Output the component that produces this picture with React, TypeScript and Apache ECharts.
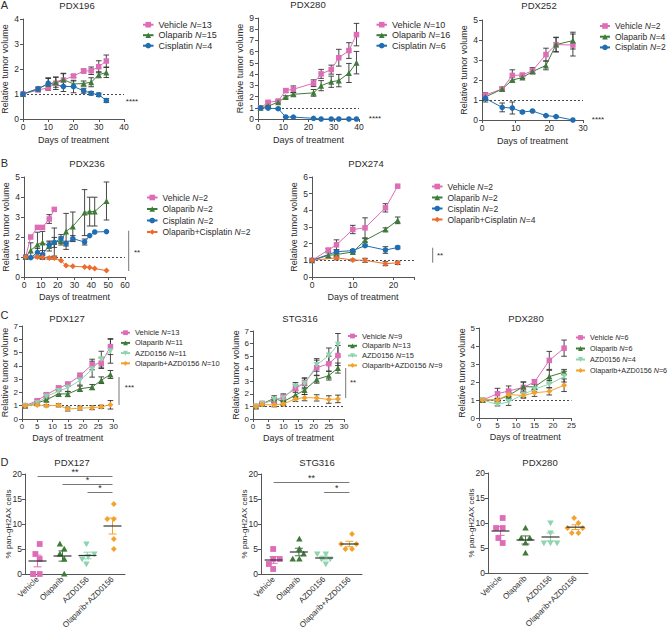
import React, { useEffect, useRef } from "react";
import * as echarts from "echarts";

// ===================== DATA =====================
// Panel A – PDX196
const pdx196Days = [0, 6, 10, 13, 16, 20, 24, 27, 30, 33];
const pdx196Vehicle = [1.0, 1.16, 1.25, 1.43, 1.56, 1.72, 1.92, 1.93, 2.09, 2.32];
const pdx196VehicleSem = [0, 0.04, 0.1, 0.25, 0.25, 0.06, 0.08, 0.15, 0.24, 0.24];
const pdx196Olaparib = [1.0, 1.22, 1.4, 1.47, 1.58, 1.4, 1.42, 1.47, 1.77, 1.86];
const pdx196OlaparibSem = [0, 0.05, 0.22, 0.2, 0.25, 0.12, 0.1, 0.18, 0.12, 0.2];
const pdx196Cisplatin = [1.0, 1.2, 1.43, null, 1.3, 1.3, 1.13, 1.03, 0.97, 0.74];
const pdx196CisplatinSem = [0, 0.08, 0.22, 0, 0.2, 0.25, 0.1, 0.07, 0.07, 0.08];
const pdx196N = [13, 15, 4];

// Panel A – PDX280
const pdx280aDays = [1, 4, 8, 11, 14, 22, 25, 29, 32, 36, 39];
const pdx280aVehicle = [1.0, 1.49, 1.6, 2.53, 2.65, 3.19, 4.02, 4.4, 5.46, 6.1, 7.52];
const pdx280aVehicleSem = [0, 0.08, 0.1, 0.15, 0.3, 0.3, 0.4, 0.4, 0.75, 0.7, 1.0];
const pdx280aOlaparib = [1.0, 1.15, 1.5, 1.97, 2.2, 2.33, 2.97, 3.32, 3.42, 4.1, 5.02];
const pdx280aOlaparibSem = [0, 0.05, 0.1, 0.1, 0.15, 0.3, 0.45, 0.5, 0.55, 0.85, 1.0];
const pdx280aCisplatin = [1.0, 0.97, 0.92, 0.18, 0.17, 0.06, 0.0, 0.0, 0.0, 0.0, 0.0];
const pdx280aCisplatinSem = [0, 0.05, 0.05, 0.03, 0.03, 0, 0, 0, 0, 0, 0];
const pdx280aN = [10, 16, 6];

// Panel A – PDX252
const pdx252Days = [1, 6, 9, 12, 15, 19, 22, 27];
const pdx252Vehicle = [1.25, 1.55, 2.23, 2.25, 2.47, 3.27, 3.77, 3.75];
const pdx252VehicleSem = [0.12, 0.05, 0.28, 0.05, 0.15, 0.32, 0.37, 0.55];
const pdx252Olaparib = [1.15, 1.55, 2.0, 2.12, 2.42, 2.73, 3.77, 3.97];
const pdx252OlaparibSem = [0.1, 0.1, 0.12, 0.05, 0.1, 0.22, 0.35, 0.42];
const pdx252Cisplatin = [1.08, 0.63, 0.6, 0.4, 0.45, 0.22, 0.17, 0.0];
const pdx252CisplatinSem = [0.18, 0.22, 0.3, 0.05, 0.03, 0.02, 0.02, 0];
const pdx252N = [2, 4, 2];

// Panel B – PDX236
const pdx236Days = [1, 4, 8, 11, 15, 18, 22, 25, 29, 36, 39, 42, 49];
const pdx236Vehicle = [1.0, 2.0, 2.48, 2.48, 2.9, 3.38, null, null, null, null, null, null, null];
const pdx236VehicleSem = [0, 0, 0, 0, 0.22, 0, 0, 0, 0, 0, 0, 0, 0];
const pdx236Olaparib = [1.0, 1.33, 1.62, 1.73, 1.55, 1.75, 1.8, 2.28, 2.53, 3.22, 3.27, 3.27, 3.8];
const pdx236OlaparibSem = [0, 0.38, 0.62, 0.55, 0.25, 0.7, 0.2, 0.9, 0.72, 1.15, 0.72, 0.72, 0.95];
const pdx236Cisplatin = [1.0, 0.97, 1.23, 1.12, 1.6, 1.73, 1.92, 1.67, 1.92, 1.75, 2.07, 2.25, 2.27];
const pdx236CisplatinSem = [0, 0, 0.2, 0.2, 0.15, 0.25, 0.2, 0.12, 0.15, 0.15, 0, 0, 0];
const pdx236OlapCis = [1.0, null, 1.0, 0.98, 0.95, 0.95, 0.82, 0.57, 0.54, 0.5, 0.48, 0.42, 0.32];
const pdx236OlapCisSem = [0, 0, 0.05, 0.1, 0.05, 0.05, 0, 0, 0, 0, 0, 0, 0];
const pdx236N = [2, 2, 2, 2];

// Panel B – PDX274
const pdx274Days = [0, 4, 6, 10, 13, 18, 21];
const pdx274Vehicle = [1.0, 1.62, 1.93, 2.85, 2.95, 4.15, 5.45];
const pdx274VehicleSem = [0, 0.08, 0.3, 0.25, 0.6, 0.25, 0];
const pdx274Olaparib = [1.0, 1.3, 1.35, 1.5, 2.2, 2.85, 3.4];
const pdx274OlaparibSem = [0, 0.15, 0.1, 0.05, 0.1, 0.1, 0.2];
const pdx274Cisplatin = [1.0, null, 1.52, 1.58, 1.88, 1.62, 1.77];
const pdx274CisplatinSem = [0, 0, 0.12, 0.07, 0.05, 0.2, 0.08];
const pdx274OlapCis = [1.0, null, 1.15, 1.02, 1.0, 0.8, 0.85];
const pdx274OlapCisSem = [0, 0, 0.12, 0.05, 0.12, 0.12, 0.1];
const pdx274N = [2, 2, 2, 4];

// Panel C – PDX127
const pdx127Days = [1, 5, 8, 12, 15, 19, 23, 26, 29];
const pdx127Vehicle = [1.0, 1.38, 1.83, 2.33, 2.62, 3.25, 4.1, 4.2, 5.45];
const pdx127VehicleSem = [0, 0.08, 0.12, 0.15, 0.15, 0.2, 0.4, 0.4, 0.6];
const pdx127Olaparib = [1.0, 1.2, 1.45, 1.9, 1.88, 2.28, 2.4, 2.92, 3.35];
const pdx127OlaparibSem = [0, 0.1, 0.15, 0.2, 0.2, 0.2, 0.2, 0.25, 0.3];
const pdx127Azd = [1.0, 1.2, 1.7, 2.1, 2.35, 2.9, 3.75, 4.5, 5.1];
const pdx127AzdSem = [0, 0.1, 0.2, 0.25, 0.3, 0.35, 0.6, 0.6, 0.9];
const pdx127OlapAzd = [1.0, 1.05, 1.0, 1.03, 0.75, 0.82, 0.85, 0.92, 1.07];
const pdx127OlapAzdSem = [0, 0.05, 0.08, 0.12, 0.15, 0.15, 0.15, 0.12, 0.32];
const pdx127N = [13, 11, 11, 10];

// Panel C – STG316
const stg316Days = [1, 3, 7, 10, 14, 17, 21, 25, 28];
const stg316Vehicle = [1.0, 1.25, 1.5, 1.75, 2.42, 2.88, 4.08, 4.4, 5.05];
const stg316VehicleSem = [0, 0.1, 0.2, 0.25, 0.3, 0.4, 0.6, 0.6, 0.8];
const stg316Olaparib = [1.0, 1.2, 1.65, 1.38, 1.9, 2.3, 3.15, 3.45, 4.05];
const stg316OlaparibSem = [0, 0.08, 0.2, 0.25, 0.35, 0.35, 0.3, 0.35, 0.4];
const stg316Azd = [1.0, 1.2, 1.55, 1.65, 2.6, 2.8, 4.3, 5.05, 5.9];
const stg316AzdSem = [0, 0.1, 0.15, 0.25, 0.3, 0.4, 0.5, 0.6, 0.9];
const stg316OlapAzd = [1.0, 1.15, 1.12, 1.2, 1.6, 1.7, 1.68, 1.55, 1.6];
const stg316OlapAzdSem = [0, 0.08, 0.15, 0.15, 0.2, 0.25, 0.25, 0.3, 0.3];
const stg316N = [9, 13, 15, 9];

// Panel C – PDX280
const pdx280cDays = [1, 5, 8, 12, 15, 19, 23];
const pdx280cVehicle = [1.0, 1.35, 1.5, 1.7, 2.0, 3.2, 3.88];
const pdx280cVehicleSem = [0, 0.3, 0.28, 0.3, 0.12, 0.5, 0.45];
const pdx280cOlaparib = [1.0, 1.0, 1.25, 1.75, 1.72, 2.3, 2.55];
const pdx280cOlaparibSem = [0, 0.1, 0.25, 0.25, 0.15, 0.35, 0.15];
const pdx280cAzd = [1.0, 0.75, 0.9, 1.3, 1.6, 1.88, 2.3];
const pdx280cAzdSem = [0, 0.08, 0.2, 0.15, 0.15, 0.2, 0.3];
const pdx280cOlapAzd = [1.0, 1.0, 1.3, 1.25, 1.4, 1.48, 1.82];
const pdx280cOlapAzdSem = [0, 0.08, 0.12, 0.15, 0.2, 0.2, 0.35];
const pdx280cN = [6, 6, 4, 6];

// Panel D – % pan-gH2AX cells
const dCategories = ["Vehicle", "Olaparib", "AZD0156", "Olaparib+AZD0156"];
const gh2axPdx127Vehicle = [6, 4, 3, 0, 0];
const gh2axPdx127Olaparib = [6, 5, 4, 3, 0];
const gh2axPdx127Azd = [6, 4, 3.5, 3, 2];
const gh2axPdx127OlapAzd = [14, 11, 11, 7, 5];
const gh2axStg316Vehicle = [5, 3, 3, 2, 1];
const gh2axStg316Olaparib = [7, 5, 4, 3, 3];
const gh2axStg316Azd = [4, 4, 3, 3, 2];
const gh2axStg316OlapAzd = [8, 6, 6, 5, 5];
const gh2axPdx280Vehicle = [11, 9, 9, 7, 6];
const gh2axPdx280Olaparib = [9, 7, 7, 6, 4];
const gh2axPdx280Azd = [10, 8, 6, 6, 6];
const gh2axPdx280OlapAzd = [11, 10, 9, 9, 8, 8];

// ===================== STYLE =====================
const FONT = "'Liberation Sans', Arial, Helvetica, sans-serif";
const TXT = "#2b2b2b";
const AXC = "#555555";
const ERRC = "#333333";

const COLORS: Record<string, string> = {
  Vehicle: "#de6cb6",
  Olaparib: "#3f7b38",
  Cisplatin: "#1f6db3",
  "Olaparib+Cisplatin": "#ee6b2e",
  AZD0156: "#8ed4ae",
  "Olaparib+AZD0156": "#f3a32d",
};
const SYMBOLS: Record<string, [string, number, number]> = {
  Vehicle: ["rect", 5.5, 0],
  Olaparib: ["triangle", 6, 0],
  Cisplatin: ["circle", 5.5, 0],
  "Olaparib+Cisplatin": ["diamond", 6, 0],
  AZD0156: ["triangle", 6, 180],
  "Olaparib+AZD0156": ["diamond", 6, 0],
};

type Grp = [string, number, (number | null)[], number[]];
interface LinePanel {
  key: string; title: string; days: number[]; x: number[]; y: number[]; groups: Grp[];
  grid: any; titlePos: number[]; legend: any; yGap: number; xGap: number; fs: number;
}

const LINE_PANELS: LinePanel[] = [
  {
    key: "A1", title: "PDX196", days: pdx196Days, x: [0, 40, 10], y: [0, 4, 1],
    groups: [
      ["Vehicle", pdx196N[0], pdx196Vehicle, pdx196VehicleSem],
      ["Olaparib", pdx196N[1], pdx196Olaparib, pdx196OlaparibSem],
      ["Cisplatin", pdx196N[2], pdx196Cisplatin, pdx196CisplatinSem],
    ],
    grid: { left: 23, top: 19, width: 101, height: 100 }, titlePos: [77, 5],
    legend: { left: 142, top: 19.7, gap: 0.5, fs: 9, lh: 10, iw: 10.5, ih: 7 }, yGap: 13.5, xGap: 16, fs: 8.5,
  },
  {
    key: "A2", title: "PDX280", days: pdx280aDays, x: [0, 40, 10], y: [0, 9, 1],
    groups: [
      ["Vehicle", pdx280aN[0], pdx280aVehicle, pdx280aVehicleSem],
      ["Olaparib", pdx280aN[1], pdx280aOlaparib, pdx280aOlaparibSem],
      ["Cisplatin", pdx280aN[2], pdx280aCisplatin, pdx280aCisplatinSem],
    ],
    grid: { left: 258, top: 18, width: 101, height: 101 }, titlePos: [308, 4],
    legend: { left: 375.5, top: 19.7, gap: 0.5, fs: 9, lh: 10, iw: 10.5, ih: 7 }, yGap: 13.5, xGap: 16, fs: 8.5,
  },
  {
    key: "A3", title: "PDX252", days: pdx252Days, x: [0, 30, 10], y: [0, 5, 1],
    groups: [
      ["Vehicle", pdx252N[0], pdx252Vehicle, pdx252VehicleSem],
      ["Olaparib", pdx252N[1], pdx252Olaparib, pdx252OlaparibSem],
      ["Cisplatin", pdx252N[2], pdx252Cisplatin, pdx252CisplatinSem],
    ],
    grid: { left: 482, top: 20, width: 101, height: 100 }, titlePos: [539, 5],
    legend: { left: 599, top: 21, gap: 0.7, fs: 8.5, lh: 10, iw: 10, ih: 7 }, yGap: 13.5, xGap: 16, fs: 8.5,
  },
  {
    key: "B1", title: "PDX236", days: pdx236Days, x: [0, 60, 10], y: [0, 5, 1],
    groups: [
      ["Vehicle", pdx236N[0], pdx236Vehicle, pdx236VehicleSem],
      ["Olaparib", pdx236N[1], pdx236Olaparib, pdx236OlaparibSem],
      ["Cisplatin", pdx236N[2], pdx236Cisplatin, pdx236CisplatinSem],
      ["Olaparib+Cisplatin", pdx236N[3], pdx236OlapCis, pdx236OlapCisSem],
    ],
    grid: { left: 24, top: 177, width: 101, height: 100 }, titlePos: [87, 163],
    legend: { left: 146, top: 192.5, gap: 1.5, fs: 8.5, lh: 10, iw: 10.5, ih: 7 }, yGap: 14, xGap: 15.5, fs: 8.5,
  },
  {
    key: "B2", title: "PDX274", days: pdx274Days, x: [0, 25, 10], y: [0, 6, 1],
    groups: [
      ["Vehicle", pdx274N[0], pdx274Vehicle, pdx274VehicleSem],
      ["Olaparib", pdx274N[1], pdx274Olaparib, pdx274OlaparibSem],
      ["Cisplatin", pdx274N[2], pdx274Cisplatin, pdx274CisplatinSem],
      ["Olaparib+Cisplatin", pdx274N[3], pdx274OlapCis, pdx274OlapCisSem],
    ],
    grid: { left: 312, top: 177, width: 102, height: 100 }, titlePos: [366, 163],
    legend: { left: 431, top: 181.5, gap: 1, fs: 8.5, lh: 10, iw: 10.5, ih: 7 }, yGap: 14, xGap: 15.5, fs: 8.5,
  },
  {
    key: "C1", title: "PDX127", days: pdx127Days, x: [0, 30, 5], y: [0, 7, 1],
    groups: [
      ["Vehicle", pdx127N[0], pdx127Vehicle, pdx127VehicleSem],
      ["Olaparib", pdx127N[1], pdx127Olaparib, pdx127OlaparibSem],
      ["AZD0156", pdx127N[2], pdx127Azd, pdx127AzdSem],
      ["Olaparib+AZD0156", pdx127N[3], pdx127OlapAzd, pdx127OlapAzdSem],
    ],
    grid: { left: 22, top: 326, width: 91.5, height: 93 }, titlePos: [67, 318],
    legend: { left: 120, top: 328.2, gap: 1.2, fs: 7.5, lh: 9, iw: 9, ih: 6 }, yGap: 13, xGap: 14, fs: 8,
  },
  {
    key: "C2", title: "STG316", days: stg316Days, x: [0, 30, 5], y: [0, 7, 1],
    groups: [
      ["Vehicle", stg316N[0], stg316Vehicle, stg316VehicleSem],
      ["Olaparib", stg316N[1], stg316Olaparib, stg316OlaparibSem],
      ["AZD0156", stg316N[2], stg316Azd, stg316AzdSem],
      ["Olaparib+AZD0156", stg316N[3], stg316OlapAzd, stg316OlapAzdSem],
    ],
    grid: { left: 253, top: 331, width: 91, height: 88 }, titlePos: [300, 318],
    legend: { left: 347, top: 331.5, gap: 0.8, fs: 7.5, lh: 9, iw: 9, ih: 6 }, yGap: 13, xGap: 14, fs: 8,
  },
  {
    key: "C3", title: "PDX280", days: pdx280cDays, x: [0, 25, 5], y: [0, 5, 1],
    groups: [
      ["Vehicle", pdx280cN[0], pdx280cVehicle, pdx280cVehicleSem],
      ["Olaparib", pdx280cN[1], pdx280cOlaparib, pdx280cOlaparibSem],
      ["AZD0156", pdx280cN[2], pdx280cAzd, pdx280cAzdSem],
      ["Olaparib+AZD0156", pdx280cN[3], pdx280cOlapAzd, pdx280cOlapAzdSem],
    ],
    grid: { left: 479, top: 328, width: 92.5, height: 90 }, titlePos: [526, 318],
    legend: { left: 575, top: 333, gap: 2, fs: 7.2, lh: 9, iw: 9, ih: 6 }, yGap: 13, xGap: 14, fs: 8,
  },
];

interface DPanel { title: string; groups: number[][]; grid: any; titlePos: number[]; sig: any[] }
const D_PANELS: DPanel[] = [
  {
    title: "PDX127",
    groups: [gh2axPdx127Vehicle, gh2axPdx127Olaparib, gh2axPdx127Azd, gh2axPdx127OlapAzd],
    grid: { left: 25, top: 474, width: 100, height: 100 }, titlePos: [72, 462],
    sig: [[-0.07, 3.07, 19.5, "**"], [0.94, 3.07, 18.0, "*"], [1.83, 3.07, 16.3, "*"]],
  },
  {
    title: "STG316",
    groups: [gh2axStg316Vehicle, gh2axStg316Olaparib, gh2axStg316Azd, gh2axStg316OlapAzd],
    grid: { left: 261, top: 474, width: 101, height: 100 }, titlePos: [317, 462],
    sig: [[0.03, 3.16, 18.3, "**"], [1.9, 3.16, 16.3, "*"]],
  },
  {
    title: "PDX280",
    groups: [gh2axPdx280Vehicle, gh2axPdx280Olaparib, gh2axPdx280Azd, gh2axPdx280OlapAzd],
    grid: { left: 488, top: 473, width: 100, height: 100 }, titlePos: [540, 462],
    sig: [],
  },
];

// ===================== HELPERS =====================
const meanOf = (a: number[]) => a.reduce((s, v) => s + v, 0) / a.length;
const semOf = (a: number[]) => {
  const m = meanOf(a);
  const v = a.reduce((s, x) => s + (x - m) * (x - m), 0) / (a.length - 1);
  return Math.sqrt(v / a.length);
};

function swarm(ys: number[], d: number): number[] {
  const n = ys.length;
  const order = ys.map((_, i) => i).sort((a, b) => ys[b] - ys[a] || a - b);
  const xs = new Array(n).fill(0);
  const placed: number[] = [];
  for (const i of order) {
    const cands = [0];
    for (const j of placed) {
      const dy = Math.abs(ys[i] - ys[j]);
      if (dy < d) {
        const w = Math.sqrt(d * d - dy * dy);
        cands.push(xs[j] - w, xs[j] + w);
      }
    }
    cands.sort((a, b) => Math.abs(a) - Math.abs(b) || a - b);
    let chosen = 0;
    for (const c of cands) {
      let ok = true;
      for (const j of placed) {
        const dx = c - xs[j];
        const dy = ys[i] - ys[j];
        if (dx * dx + dy * dy < d * d - 0.01) { ok = false; break; }
      }
      if (ok) { chosen = c; break; }
    }
    xs[i] = chosen;
    placed.push(i);
  }
  const m = xs.reduce((a, b) => a + b, 0) / n;
  return xs.map((x) => x - m);
}

function markerShape(kind: string, cx: number, cy: number, s: number, color: string, rot: number) {
  const h = s / 2;
  const style = { fill: color };
  if (kind === "rect") return { type: "rect", shape: { x: cx - h, y: cy - h, width: s, height: s }, style };
  if (kind === "circle") return { type: "circle", shape: { cx, cy, r: h }, style };
  if (kind === "diamond")
    return { type: "polygon", shape: { points: [[cx, cy - h], [cx + h, cy], [cx, cy + h], [cx - h, cy]] }, style };
  if (rot === 180)
    return { type: "polygon", shape: { points: [[cx - h, cy - h * 0.8], [cx + h, cy - h * 0.8], [cx, cy + h]] }, style };
  return { type: "polygon", shape: { points: [[cx, cy - h], [cx + h, cy + h * 0.8], [cx - h, cy + h * 0.8]] }, style };
}

const errRender = (_params: any, api: any) => {
  const x = api.value(0);
  const y = api.value(1);
  const e = api.value(2);
  if (!e) return { type: "group", children: [] };
  const t = api.coord([x, y + e]);
  const b = api.coord([x, y - e]);
  const cx = t[0];
  const w = 2.8;
  const st = { stroke: ERRC, lineWidth: 0.9 };
  return {
    type: "group",
    children: [
      { type: "line", shape: { x1: cx, y1: t[1], x2: cx, y2: b[1] }, style: st },
      { type: "line", shape: { x1: cx - w, y1: t[1], x2: cx + w, y2: t[1] }, style: st },
      { type: "line", shape: { x1: cx - w, y1: b[1], x2: cx + w, y2: b[1] }, style: st },
    ],
  };
};

function buildOption() {
  const grid: any[] = [];
  const xAxis: any[] = [];
  const yAxis: any[] = [];
  const series: any[] = [];
  const legend: any[] = [];
  const graphic: any[] = [];
  const legendText: Record<string, [string, number]> = {};

  const text = (t: string, x: number, y: number, fs: number, extra: any = {}) =>
    graphic.push({
      type: "text", silent: true,
      style: { text: t, x, y, fill: TXT, fontSize: fs, fontFamily: FONT, align: "center", verticalAlign: "middle", ...extra },
    });
  const vline = (x: number, y1: number, y2: number) =>
    graphic.push({ type: "line", silent: true, shape: { x1: x, y1, x2: x, y2 }, style: { stroke: "#777", lineWidth: 1 } });

  const axisCommon = {
    axisLine: { show: true, onZero: false, lineStyle: { color: AXC, width: 1 } },
    axisTick: { show: true, length: 3, lineStyle: { color: AXC, width: 1 } },
    splitLine: { show: false },
    nameTextStyle: { fontSize: 9, color: TXT, fontFamily: FONT },
    nameMoveOverlap: false,
  };

  LINE_PANELS.forEach((p, gi) => {
    grid.push({ ...p.grid, outerBoundsMode: "none", containLabel: false });
    const xi = p.x[2];
    xAxis.push({
      type: "value", gridIndex: gi, min: p.x[0], max: p.x[1], interval: xi,
      name: "Days of treatment", nameLocation: "middle", nameGap: p.xGap, ...axisCommon,
      axisLabel: { fontSize: p.fs, color: TXT, fontFamily: FONT, margin: 3, formatter: (v: number) => (v % xi === 0 ? String(v) : "") },
    });
    yAxis.push({
      type: "value", gridIndex: gi, min: p.y[0], max: p.y[1], interval: p.y[2],
      name: "Relative tumor volume", nameLocation: "middle", nameGap: p.yGap, ...axisCommon,
      axisLabel: { fontSize: p.fs, color: TXT, fontFamily: FONT, margin: 4 },
    });
    const keys: string[] = [];
    p.groups.forEach((g, k) => {
      const [label, n, vals, sems] = g;
      const key = p.key + ":" + label;
      keys.push(key);
      legendText[key] = [label, n];
      const color = COLORS[label];
      const [sym, size, rot] = SYMBOLS[label];
      const pts: any[] = [];
      const errs: any[] = [];
      p.days.forEach((d, i) => {
        const v = vals[i];
        if (v === null || v === undefined) return;
        pts.push([d, v]);
        errs.push([d, v, sems[i] || 0]);
      });
      series.push({
        type: "line", name: key, xAxisIndex: gi, yAxisIndex: gi, data: pts,
        symbol: sym, symbolSize: size, symbolRotate: rot,
        lineStyle: { width: 1, color }, itemStyle: { color }, z: 3, silent: true,
        emphasis: { disabled: true },
        markLine: k === 0 ? {
          silent: true, symbol: ["none", "none"], label: { show: false },
          lineStyle: { type: [2, 2], color: "#333", width: 0.9 },
          data: [{ yAxis: 1 }], z: 1,
        } : undefined,
      });
      series.push({
        type: "custom", xAxisIndex: gi, yAxisIndex: gi, data: errs, renderItem: errRender,
        encode: { x: 0, y: 1 }, z: 2, silent: true,
      });
    });
    const L = p.legend;
    legend.push({
      show: true, orient: "vertical", left: L.left, top: L.top, padding: 0, itemGap: L.gap,
      itemWidth: L.iw, itemHeight: L.ih, selectedMode: false, data: keys,
      formatter: (name: string) => {
        const t = legendText[name];
        return `${t[0]} {i|N}=${t[1]}`;
      },
      textStyle: {
        fontSize: L.fs, fontFamily: FONT, color: TXT, lineHeight: L.lh,
        rich: { i: { fontStyle: "italic", fontSize: L.fs, fontFamily: FONT, color: TXT, lineHeight: L.lh } },
      },
    });
    text(p.title, p.titlePos[0], p.titlePos[1], 9.5);
  });

  D_PANELS.forEach((p, j) => {
    const gi = LINE_PANELS.length + j;
    grid.push({ ...p.grid, outerBoundsMode: "none", containLabel: false });
    xAxis.push({
      type: "category", gridIndex: gi, data: dCategories, boundaryGap: true,
      axisLine: { show: true, lineStyle: { color: AXC, width: 1 } }, axisTick: { show: false },
      axisLabel: { rotate: 45, fontSize: 8, color: TXT, fontFamily: FONT, margin: 4, interval: 0 },
      splitLine: { show: false },
    });
    yAxis.push({
      type: "value", gridIndex: gi, min: 0, max: 20, interval: 5,
      name: "% pan-gH2AX cells", nameLocation: "middle", nameGap: 13, ...axisCommon,
      nameTextStyle: { fontSize: 8, color: TXT, fontFamily: FONT },
      axisLabel: { fontSize: 8.5, color: TXT, fontFamily: FONT, margin: 3 },
    });
    const colors = dCategories.map((c) => COLORS[c]);
    p.groups.forEach((vals, k) => {
      const cat = dCategories[k];
      const [sym, , rot] = SYMBOLS[cat];
      const color = COLORS[cat];
      series.push({
        type: "custom", xAxisIndex: gi, yAxisIndex: gi, silent: true, z: 3,
        data: vals.map((v) => [k, v]), encode: { x: 0, y: 1 },
        renderItem: (params: any, api: any) => {
          const pts = vals.map((v) => api.coord([k, v]));
          const offs = swarm(pts.map((q: number[]) => q[1]), 6.6);
          const q = pts[params.dataIndex];
          return markerShape(sym, q[0] + offs[params.dataIndex], q[1], sym === "triangle" ? 6.5 : 5.8, color, rot);
        },
      });
    });
    series.push({
      type: "custom", xAxisIndex: gi, yAxisIndex: gi, silent: true, z: 4,
      data: p.groups.map((vals, k) => [k, meanOf(vals), semOf(vals)]), encode: { x: 0, y: 1 },
      renderItem: (params: any, api: any) => {
        const i = api.value(0);
        const m = api.value(1);
        const s = api.value(2);
        const c = api.coord([i, m]);
        const t = api.coord([i, m + s]);
        const b = api.coord([i, m - s]);
        const col = colors[params.dataIndex];
        const st = { stroke: col, lineWidth: 1 };
        return {
          type: "group",
          children: [
            { type: "line", shape: { x1: c[0], y1: t[1], x2: c[0], y2: b[1] }, style: st },
            { type: "line", shape: { x1: c[0] - 4, y1: t[1], x2: c[0] + 4, y2: t[1] }, style: st },
            { type: "line", shape: { x1: c[0] - 4, y1: b[1], x2: c[0] + 4, y2: b[1] }, style: st },
            { type: "line", shape: { x1: c[0] - 9, y1: c[1], x2: c[0] + 9, y2: c[1] }, style: { stroke: "#333", lineWidth: 1.2 } },
          ],
        };
      },
      markLine: p.sig.length ? {
        silent: true, symbol: ["none", "none"],
        lineStyle: { color: "#777", width: 1, type: "solid" },
        label: { show: true, position: "insideMiddleTop", distance: 0, fontSize: 9, color: TXT, fontFamily: FONT, formatter: "{b}" },
        data: p.sig.map((s: any[]) => [{ coord: [s[0], s[2]], name: s[3] }, { coord: [s[1], s[2]] }]),
      } : undefined,
    });
    text(p.title, p.titlePos[0], p.titlePos[1], 9.5);
  });

  // panel letters
  text("A", 4.5, 4.5, 11);
  text("B", 4.5, 163, 11);
  text("C", 4.5, 315, 11);
  text("D", 4.5, 462, 11);
  // significance annotations for growth curves
  text("****", 132, 101, 8);
  text("****", 375, 118, 8);
  text("****", 598, 119, 8);
  vline(128.7, 230.7, 271);
  text("**", 137, 252, 8);
  vline(432.7, 247.7, 262.7);
  text("**", 440, 255, 8);
  vline(119, 377, 405);
  text("***", 129.5, 387, 8);
  vline(345.7, 368, 398);
  text("**", 353, 382, 8);

  return {
    animation: false,
    textStyle: { fontFamily: FONT },
    grid, xAxis, yAxis, series, legend, graphic,
  };
}

export default function App() {
  const ref = useRef<HTMLDivElement>(null);
  useEffect(() => {
    if (!ref.current) return;
    const chart = echarts.init(ref.current, undefined, { renderer: "svg" });
    chart.setOption(buildOption() as any);
    return () => chart.dispose();
  }, []);
  return (
    <div
      ref={ref}
      style={{ position: "absolute", left: 0, top: 0, width: 670, height: 630, background: "#ffffff" }}
    />
  );
}
